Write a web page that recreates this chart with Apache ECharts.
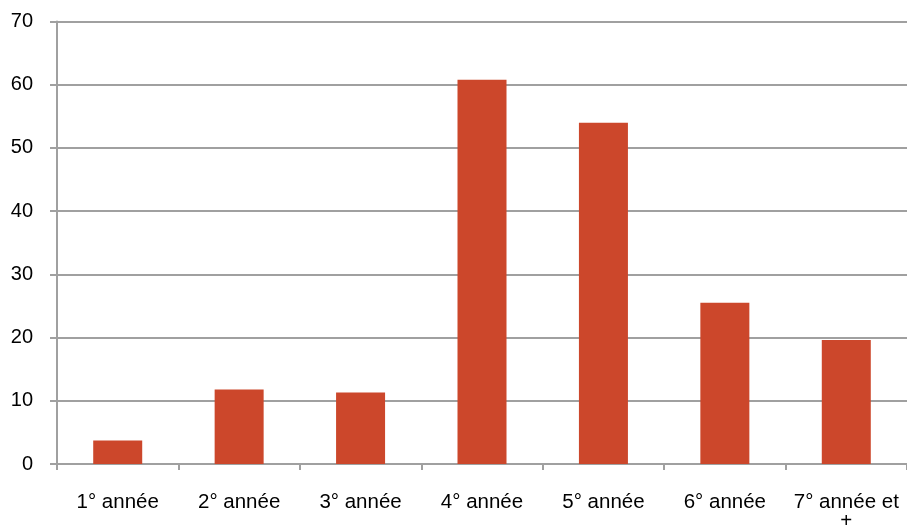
<!DOCTYPE html>
<html>
<head>
<meta charset="utf-8">
<script src="https://cdn.jsdelivr.net/npm/echarts@6/dist/echarts.min.js"></script>
<style>
  html, body { margin:0; padding:0; background:#fff; overflow:hidden; width:907px; height:532px; }
  #chart { width:907px; height:532px; overflow:hidden; }
</style>
</head>
<body>
<div id="chart"></div>
<script>
let categories = ['1° année', '2° année', '3° année', '4° année', '5° année', '6° année', '7° année et\n+']
let values = [3.7, 11.8, 11.3, 60.8, 54.0, 25.5, 19.6]
let yTicks = [0, 10, 20, 30, 40, 50, 60, 70]

let grey = '#a0a0a0'
let font = 'Liberation Sans, Arial, sans-serif'

let myChart = echarts.init(document.getElementById('chart'), null, {renderer:'canvas'})
let option = {
  animation:false,
  grid:{
    left:57,
    top:21.5,
    width:855,
    height:442.5,
    containLabel:false
  },
  xAxis:{
    type:'category',
    data:categories,
    axisLine:{ lineStyle:{ color:grey, width:2 } },
    axisTick:{ show:true, length:6, lineStyle:{ color:grey, width:2 } },
    axisLabel:{
      color:'#000',
      fontSize:20.5,
      fontFamily:font,
      margin:29,
      lineHeight:19,
      interval:0
    }
  },
  yAxis:{
    type:'value',
    min:yTicks[0],
    max:yTicks[yTicks.length - 1],
    interval:10,
    axisLine:{ show:true, lineStyle:{ color:grey, width:2 } },
    axisTick:{ show:true, length:7, lineStyle:{ color:grey, width:2 } },
    splitLine:{ lineStyle:{ color:grey, width:2 } },
    axisLabel:{
      color:'#000',
      fontSize:20,
      fontFamily:font,
      margin:24
    }
  },
  series:[{
    type:'bar',
    data:values,
    barWidth:49,
    itemStyle:{ color:'#cc472b' }
  }]
}
myChart.setOption(option)
</script>
</body>
</html>
